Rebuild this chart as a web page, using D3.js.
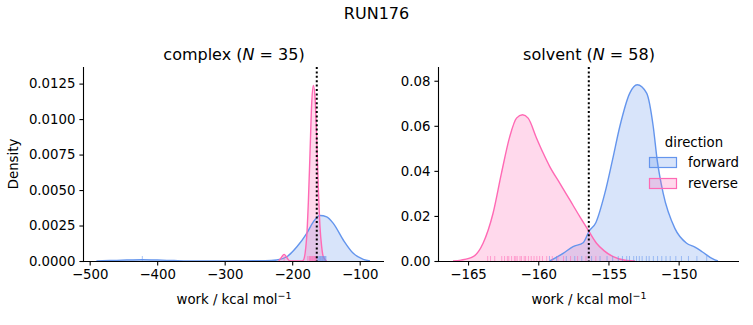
<!DOCTYPE html>
<html>
<head>
<meta charset="utf-8">
<script src="https://cdn.jsdelivr.net/npm/d3@7"></script>
<style>
html, body { margin: 0; padding: 0; background: #fff; }
svg text { font-family: "DejaVu Sans", sans-serif; fill: #000; }
</style>
</head>
<body>
<svg id="chart" width="753" height="325"></svg>
<script>
// ---------------- data ----------------
const suptitle = "RUN176";
const panelNames = ["complex", "solvent"];
const panelN = [35, 58];
const directions = ["forward", "reverse"];
const directionColors = ["#6495ed", "#ff69b4"];

// complex: KDE curves
const complexForwardWork = [-490, -470, -445, -422, -400, -375, -355, -300, -240, -223, -208, -193, -178.5, -168.7, -158.8, -148.9, -139.1, -124.3, -109.5, -94.7, -84.7];
const complexForwardDensity = [0, 0.00003, 0.00007, 0.00009, 0.00007, 0.00003, 0.000005, 0, 0.00002, 0.00007, 0.0003, 0.001, 0.00195, 0.00276, 0.00321, 0.00311, 0.00265, 0.00148, 0.00054, 0.00012, 0];
const complexReverseWork = [-220, -216, -212, -208, -204, -200, -186, -183.6, -178.5, -176.1, -173.6, -171.1, -168.7, -166.2, -163.7, -161.3, -158.8, -156.3, -153.9, -149];
const complexReverseDensity = [0, 0.00025, 0.00047, 0.00025, 0.00002, 0, 0, 0.00005, 0.0017, 0.0041, 0.0076, 0.0111, 0.01237, 0.01155, 0.0087, 0.0052, 0.0024, 0.001, 0.0003, 0];
const complexForwardRug = [-422, -163, -161.5, -160, -159, -158, -157, -156, -155, -154, -153, -152, -151, -150];
const complexReverseRug = [-212, -177, -175, -174, -173, -172, -171, -170, -169, -168, -167, -166, -165, -164];
const complexDeltaG = -163.6;

// solvent
const solventForwardWork = [-159.18, -158.23, -157.52, -156.8, -156.38, -155.9, -155.26, -154.71, -154.19, -153.48, -152.95, -152.28, -151.81, -151.53, -151.1, -150.27, -149.43, -148.84, -148.3, -147.56, -147.2];
const solventForwardDensity = [0, 0.0034, 0.0064, 0.0081, 0.0132, 0.017, 0.030, 0.0449, 0.0597, 0.0745, 0.0782, 0.0745, 0.0597, 0.0449, 0.030, 0.0145, 0.0079, 0.0062, 0.004, 0.0009, 0];
const solventReverseWork = [-166.07, -165.5, -164.64, -163.93, -163.22, -162.62, -162.03, -161.55, -161.12, -160.72, -160.12, -159.65, -159.18, -158.46, -157.75, -157.04, -156.45, -155.85, -155.3, -154.66, -153.71, -153.1];
const solventReverseDensity = [0, 0.0004, 0.0019, 0.0079, 0.0212, 0.039, 0.0552, 0.0634, 0.0649, 0.0634, 0.0545, 0.0479, 0.0419, 0.0345, 0.0271, 0.0197, 0.0138, 0.0079, 0.0045, 0.0019, 0.0002, 0];
const solventForwardRug = [-159.2, -158.7, -158.0, -157.4, -156.9, -156.2, -155.6, -155.1, -154.7, -154.3, -154.0, -153.7, -153.5, -153.2, -153.0, -152.8, -152.6, -152.3, -152.1, -151.8, -151.5, -151.2, -150.9, -150.6, -150.2, -149.8, -149.3, -148.7, -148.0];
const solventReverseRug = [-163.6, -163.4, -163.1, -162.6, -162.4, -162.2, -162.1, -161.9, -161.7, -161.6, -161.5, -161.3, -161.2, -161.0, -160.9, -160.7, -160.5, -160.3, -160.1, -159.9, -159.7, -159.4, -159.0, -158.6, -158.2, -157.7, -157.2, -156.6, -155.9];
const solventDeltaG = -156.4;

const complexXTicks = [-500, -400, -300, -200, -100];
const complexYTicks = [0, 0.0025, 0.005, 0.0075, 0.01, 0.0125];
const solventXTicks = [-165, -160, -155, -150];
const solventYTicks = [0, 0.02, 0.04, 0.06, 0.08];

// ---------------- layout ----------------
const svg = d3.select("#chart");
const fontSize = 13.3;

const panels = [
  {
    name: panelNames[0], n: panelN[0],
    left: 84, right: 384, top: 67, bottom: 261,
    xDomain: [-508.4, -64], yDomain: [0, 0.01367],
    xTicks: complexXTicks, yTicks: complexYTicks, yFmt: ".4f",
    curves: [
      { x: complexForwardWork, y: complexForwardDensity, rug: complexForwardRug, c: 0 },
      { x: complexReverseWork, y: complexReverseDensity, rug: complexReverseRug, c: 1 }
    ],
    dg: complexDeltaG, ylabel: true
  },
  {
    name: panelNames[1], n: panelN[1],
    left: 439, right: 739, top: 67, bottom: 261,
    xDomain: [-167.07, -145.7], yDomain: [0, 0.0861],
    xTicks: solventXTicks, yTicks: solventYTicks, yFmt: ".2f",
    curves: [
      { x: solventForwardWork, y: solventForwardDensity, rug: solventForwardRug, c: 0 },
      { x: solventReverseWork, y: solventReverseDensity, rug: solventReverseRug, c: 1 }
    ],
    dg: solventDeltaG, ylabel: false, legend: true
  }
];

svg.append("text")
  .attr("x", 376.5).attr("y", 18.5)
  .attr("text-anchor", "middle")
  .style("font-size", "16px")
  .text(suptitle);

panels.forEach((p, pi) => {
  const x = d3.scaleLinear().domain(p.xDomain).range([p.left, p.right]);
  const y = d3.scaleLinear().domain(p.yDomain).range([p.bottom, p.top]);
  const g = svg.append("g");

  const clipId = "clip" + pi;
  svg.append("clipPath").attr("id", clipId)
    .append("rect").attr("x", p.left).attr("y", p.top)
    .attr("width", p.right - p.left).attr("height", p.bottom - p.top);

  const plot = g.append("g").attr("clip-path", `url(#${clipId})`);

  const area = d3.area().x(d => x(d[0])).y0(y(0)).y1(d => y(d[1])).curve(d3.curveMonotoneX);
  const line = d3.line().x(d => x(d[0])).y(d => y(d[1])).curve(d3.curveMonotoneX);

  p.curves.forEach(cv => {
    const pts = cv.x.map((v, i) => [v, cv.y[i]]);
    const col = directionColors[cv.c];
    plot.append("path").datum(pts).attr("d", area)
      .attr("fill", col).attr("fill-opacity", 0.25).attr("stroke", "none");
  });
  p.curves.forEach(cv => {
    const pts = cv.x.map((v, i) => [v, cv.y[i]]);
    const col = directionColors[cv.c];
    plot.append("path").datum(pts).attr("d", line)
      .attr("fill", "none").attr("stroke", col).attr("stroke-width", 1.4);
  });
  // rugs
  p.curves.forEach(cv => {
    const col = directionColors[cv.c];
    plot.selectAll(null).data(cv.rug).enter().append("line")
      .attr("x1", d => x(d)).attr("x2", d => x(d))
      .attr("y1", p.bottom).attr("y2", p.bottom - 5)
      .attr("stroke", col).attr("stroke-width", 1).attr("stroke-opacity", 0.55);
  });
  // dotted free-energy line
  plot.append("line")
    .attr("x1", x(p.dg)).attr("x2", x(p.dg))
    .attr("y1", p.top).attr("y2", p.bottom)
    .attr("stroke", "#000").attr("stroke-width", 2)
    .attr("stroke-dasharray", "2,2.4");

  // axes
  const xAxis = d3.axisBottom(x).tickValues(p.xTicks).tickSize(4.6).tickPadding(4)
    .tickFormat(d3.format("d"));
  const yAxis = d3.axisLeft(y).tickValues(p.yTicks).tickSize(4.6).tickPadding(4)
    .tickFormat(d3.format(p.yFmt));
  const gx = g.append("g").attr("transform", `translate(0,${p.bottom})`).call(xAxis);
  const gy = g.append("g").attr("transform", `translate(${p.left},0)`).call(yAxis);
  [gx, gy].forEach(a => {
    a.selectAll("text").style("font-size", fontSize + "px").style("font-family", "DejaVu Sans, sans-serif");
    a.select(".domain").attr("stroke-width", 1.1);
    a.selectAll(".tick line").attr("stroke-width", 1.1);
  });
  gx.select(".domain").attr("d", `M${p.left},0.5H${p.right}`);
  gy.select(".domain").attr("d", `M-0.5,${p.bottom}V${p.top}`);

  // titles
  const cx = (p.left + p.right) / 2;
  const t = g.append("text").attr("x", cx).attr("y", 59.5).attr("text-anchor", "middle")
    .style("font-size", "16px");
  t.append("tspan").text(p.name + " (");
  t.append("tspan").style("font-style", "italic").text("N");
  t.append("tspan").text(" = " + p.n + ")");

  const xl = g.append("text").attr("x", cx).attr("y", 304).attr("text-anchor", "middle")
    .style("font-size", fontSize + "px");
  xl.append("tspan").text("work / kcal mol");
  xl.append("tspan").attr("dy", -5).style("font-size", "9.5px").text("\u22121");

  if (p.ylabel) {
    g.append("text").attr("transform", `translate(18,${(p.top + p.bottom) / 2}) rotate(-90)`)
      .attr("text-anchor", "middle").style("font-size", fontSize + "px").text("Density");
  }

  if (p.legend) {
    const lg = g.append("g");
    lg.append("text").attr("x", 694).attr("y", 146.5).attr("text-anchor", "middle")
      .style("font-size", fontSize + "px").text("direction");
    directions.forEach((dname, i) => {
      const yy = 157.5 + i * 21;
      lg.append("rect").attr("x", 649.5).attr("y", yy).attr("width", 27).attr("height", 10)
        .attr("fill", directionColors[i]).attr("fill-opacity", 0.25)
        .attr("stroke", directionColors[i]).attr("stroke-width", 1.2);
      lg.append("text").attr("x", 688).attr("y", yy + 9.5)
        .style("font-size", fontSize + "px").text(dname);
    });
  }
});
</script>
</body>
</html>
